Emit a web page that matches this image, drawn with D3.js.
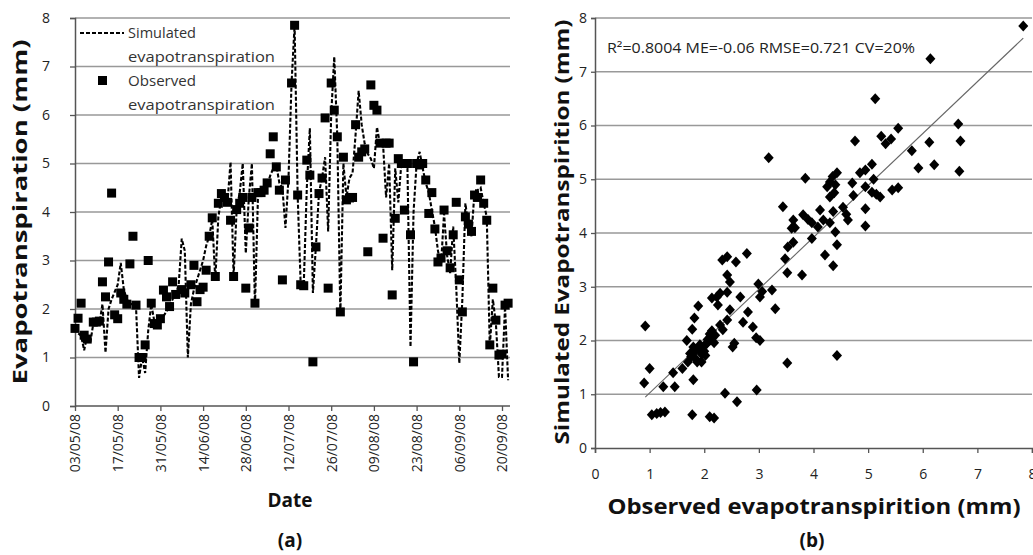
<!DOCTYPE html>
<html><head><meta charset="utf-8">
<script src="https://cdn.jsdelivr.net/npm/d3@7"></script>
<style>
body{margin:0;background:#fff;}
text{font-family:"Open Sans","Noto Sans",sans-serif;}
</style></head>
<body><svg id="c" width="1033" height="555"></svg>
<script>
// ---------- DATA ----------
const startDate = "2008-05-03";
const tickDates = ["03/05/08","17/05/08","31/05/08","14/06/08","28/06/08","12/07/08","26/07/08","09/08/08","23/08/08","06/09/08","20/09/08"];
const yTicks = [0,1,2,3,4,5,6,7,8];
const xTicksB = [0,1,2,3,4,5,6,7,8];
// simulated daily ET (mm), one value per day from startDate
const simulated = [
1.6,1.5,1.45,1.15,1.45,1.3,1.7,1.75,1.7,2.1,
1.1,2.0,2.2,2.35,2.5,2.95,2.4,2.2,2.1,2.1,
2.05,0.58,1.0,0.68,1.55,2.1,1.75,1.7,1.75,1.85,
1.95,2.05,2.2,2.3,2.5,3.45,3.2,1.0,2.1,2.4,
2.6,2.8,3.0,3.3,3.5,3.85,2.6,3.9,4.3,4.25,
4.2,5.03,2.67,4.05,4.4,5.0,3.15,4.3,5.0,2.05,
4.35,4.35,4.4,4.55,4.75,4.9,4.97,4.6,4.5,3.67,
4.7,6.66,7.85,4.35,2.5,2.5,4.5,5.73,2.33,3.3,
4.4,4.7,5.13,3.6,6.0,7.2,5.55,1.88,5.0,4.3,
4.7,4.8,5.6,6.5,5.8,5.4,5.2,5.1,4.9,5.75,
5.4,5.4,4.3,5.0,2.8,4.9,4.2,5.0,4.95,4.9,
1.22,4.0,5.0,5.24,4.9,4.6,4.4,4.04,3.7,3.2,
2.9,3.97,3.1,2.74,3.7,2.45,0.88,2.2,4.18,3.7,
3.5,4.45,4.45,4.5,4.18,3.9,1.22,2.2,1.7,0.6,
0.6,2.05,0.53];
// observed ET: day offset from startDate and value (mm)
const observedDay = [0,1,2,3,4,6,7,8,9,10,11,12,13,14,15,16,17,18,19,20,21,22,23,24,25,26,27,28,29,30,31,32,33,35,36,38,39,40,41,42,43,44,45,46,47,48,49,50,51,52,53,54,55,56,57,58,59,60,61,62,63,64,65,66,67,68,69,71,72,73,74,75,76,77,78,79,80,81,82,83,84,85,86,87,88,89,90,91,92,93,94,95,96,97,98,99,100,101,102,103,104,105,106,107,108,109,110,111,112,113,114,115,116,117,118,119,120,121,122,123,124,125,126,127,128,129,130,131,132,133,134,135,136,137,138,139,140,141,142];
const observedValue = [1.6,1.81,2.12,1.46,1.38,1.73,1.73,1.75,2.56,2.25,2.97,4.39,1.88,1.8,2.33,2.2,2.1,2.93,3.5,2.08,1.0,1.0,1.26,3.0,2.12,1.7,1.67,1.8,2.39,2.25,2.05,2.56,2.3,2.4,2.33,2.5,2.9,2.15,2.4,2.45,2.8,3.5,3.88,2.67,4.18,4.38,4.3,4.2,3.83,2.67,4.05,4.18,4.3,2.43,3.67,4.3,2.12,4.4,4.4,4.45,4.6,5.2,5.55,4.93,4.45,2.6,4.66,6.66,7.85,4.35,2.5,2.48,5.07,4.76,0.91,3.28,4.38,4.7,5.94,2.43,6.66,6.1,5.55,1.94,5.13,4.25,4.29,4.3,5.8,5.13,5.24,5.3,3.18,6.62,6.2,6.1,5.42,3.46,5.42,5.42,2.29,3.87,5.1,5.0,4.04,5.0,3.53,0.91,5.0,4.97,5.0,4.66,3.97,4.4,3.65,2.97,3.05,4.04,3.2,2.85,3.53,4.2,2.6,1.94,3.9,3.75,3.6,4.35,4.3,4.66,4.18,3.83,1.26,2.43,1.77,1.05,1.07,2.08,2.12];
// scatter (b): observed vs simulated
const scatterObs = [0.92,1.0,0.9,1.04,1.13,1.2,1.28,1.25,1.46,1.43,1.6,1.68,1.8,1.78,1.74,1.78,1.82,1.89,
1.7,1.76,1.83,1.9,1.95,2.0,2.05,2.1,2.15,2.2,1.85,1.95,2.0,1.87,2.06,2.1,2.14,1.92,2.02,2.18,1.8,
2.1,2.18,2.14,2.23,2.29,2.33,2.42,2.58,2.78,2.42,2.47,2.42,2.25,2.42,2.29,2.34,2.47,2.66,2.71,2.8,2.89,2.95,3.02,2.55,2.52,2.38,2.6,2.96,3.02,2.99,3.18,3.24,3.3,3.06,3.52,3.44,3.53,3.63,3.48,3.52,3.79,3.6,3.63,3.66,3.85,3.81,3.9,3.97,4.08,3.97,4.12,4.18,4.3,4.36,4.4,4.43,4.21,4.36,4.43,4.25,4.3,4.35,4.4,4.43,4.3,4.38,4.54,4.6,4.63,4.71,4.73,4.76,4.85,4.95,5.07,4.95,4.95,4.95,5.1,5.07,5.15,5.22,5.44,5.55,5.13,5.24,5.32,5.42,5.55,5.8,5.92,6.12,6.21,6.14,6.65,6.69,6.67,7.84];
const scatterSim = [2.27,1.48,1.21,0.62,0.64,0.66,0.67,1.14,1.14,1.4,1.48,2.0,1.27,0.62,1.76,2.21,2.42,2.64,
1.6,1.7,1.8,1.85,1.75,1.9,1.95,2.0,2.05,2.1,1.65,1.6,1.8,1.6,2.02,2.12,2.18,1.92,1.72,1.96,1.88,
0.58,0.56,2.79,2.81,2.88,3.5,3.56,3.46,3.62,3.22,3.09,2.9,2.66,2.38,2.29,2.2,2.57,2.81,2.34,2.53,2.25,2.05,2.0,1.95,1.88,1.02,0.86,1.08,2.81,3.05,5.4,2.94,2.59,2.91,1.58,4.49,3.74,3.83,3.52,3.26,3.22,4.09,4.24,4.1,5.02,4.34,4.25,4.19,4.11,3.9,4.43,4.24,4.19,4.4,4.02,3.78,3.59,3.39,1.72,4.86,4.95,5.05,4.9,5.12,4.67,4.75,4.48,4.35,4.24,4.93,4.7,5.71,5.12,5.17,5.28,4.86,4.45,4.13,5.0,4.76,4.72,4.67,4.8,4.84,6.5,5.8,5.66,5.75,5.95,5.53,5.21,5.69,5.27,7.24,6.03,5.71,5.15,7.85];
const fitLine = {x0:0.92, x1:7.84, slope:0.965, intercept:0.06};
const statsText = "R²=0.8004 ME=-0.06 RMSE=0.721 CV=20%";

// ---------- CHART ----------
const svg = d3.select("#c");
const gridCol = "#999", axisCol = "#555";
const parse = d3.timeParse("%Y-%m-%d"), fmt = d3.timeFormat("%d/%m/%y"), parseT = d3.timeParse("%d/%m/%y");
const d0 = parse(startDate);
const dayDate = d => d3.timeDay.offset(d0, d);

function fitText(sel, len) {
  sel.attr("textLength", len).attr("lengthAdjust", "spacingAndGlyphs");
  return sel;
}

// ----- panel (a)
const xA = d3.scaleTime().domain([d0, parseT("20/09/08")]).range([75, 502]);
const yA = d3.scaleLinear().domain([0, 8]).range([406, 18]);
const gA = svg.append("g");
gA.selectAll("line.grid").data(yTicks.slice(1)).join("line")
  .attr("x1", 75).attr("x2", 510).attr("y1", d => yA(d)).attr("y2", d => yA(d))
  .attr("stroke", gridCol).attr("stroke-width", 1.3);

gA.append("g").attr("transform", "translate(75,0)")
  .call(d3.axisLeft(yA).tickValues(yTicks).tickSize(5).tickPadding(20).tickFormat(d3.format("d")));
const xAxA = gA.append("g").attr("transform", "translate(0,406)")
  .call(d3.axisBottom(xA).tickValues(tickDates.map(parseT)).tickSize(5).tickFormat(fmt));
xAxA.select(".domain").attr("d", "M75,0H510");
xAxA.selectAll(".tick text").attr("transform", "rotate(-90)").attr("text-anchor", "end")
  .attr("x", -8).attr("y", 0).attr("dy", "0.35em");

// simulated dashed line
const line = d3.line().x((d, i) => xA(dayDate(i))).y(d => yA(d));
gA.append("path").datum(simulated).attr("d", line).attr("fill", "none")
  .attr("stroke", "#000").attr("stroke-width", 2.1).attr("stroke-dasharray", "4,2");
// observed squares
gA.selectAll("rect.obs").data(observedDay.map((d, i) => [d, observedValue[i]])).join("rect")
  .attr("x", d => xA(dayDate(d[0])) - 4.5).attr("y", d => yA(d[1]) - 4.5)
  .attr("width", 9).attr("height", 9).attr("fill", "#000");

// legend
const lg = gA.append("g");
lg.append("line").attr("x1", 80).attr("x2", 124).attr("y1", 33).attr("y2", 33)
  .attr("stroke", "#000").attr("stroke-width", 2.1).attr("stroke-dasharray", "4,2");
lg.append("rect").attr("x", 98).attr("y", 76).attr("width", 9).attr("height", 9).attr("fill", "#000");
[["Simulated", 38, 68], ["evapotranspiration", 62, 147], ["Observed", 86, 68], ["evapotranspiration", 110, 147]].forEach(t => {
  fitText(lg.append("text").attr("x", 128).attr("y", t[1]).text(t[0]).attr("font-size", 15).attr("fill", "#333"), t[2]);
});

// titles (a)
fitText(svg.append("text").attr("transform", "translate(27,212) rotate(-90)").attr("text-anchor", "middle")
  .attr("font-size", 20).attr("font-weight", "bold").attr("fill", "#111").text("Evapotranspiration (mm)"), 345);
svg.append("text").attr("x", 290).attr("y", 507).attr("text-anchor", "middle")
  .attr("font-size", 19).attr("font-weight", "bold").attr("fill", "#111").text("Date");
svg.append("text").attr("x", 290).attr("y", 547).attr("text-anchor", "middle")
  .attr("font-size", 19).attr("font-weight", "bold").attr("fill", "#111").text("(a)");

// ----- panel (b)
const xB = d3.scaleLinear().domain([0, 8]).range([595, 1032]);
const yB = d3.scaleLinear().domain([0, 8]).range([448, 18]);
const gB = svg.append("g");
gB.selectAll("line.grid").data(yTicks.slice(1)).join("line")
  .attr("x1", 595).attr("x2", 1032).attr("y1", d => yB(d)).attr("y2", d => yB(d))
  .attr("stroke", gridCol).attr("stroke-width", 1.3);
gB.append("g").attr("transform", "translate(595,0)")
  .call(d3.axisLeft(yB).tickValues(yTicks).tickSize(4).tickPadding(4).tickFormat(d3.format("d")));
gB.append("g").attr("transform", "translate(0,448)")
  .call(d3.axisBottom(xB).tickValues(xTicksB).tickSize(5).tickPadding(16).tickFormat(d3.format("d")));
// fit line
gB.append("line").attr("x1", xB(fitLine.x0)).attr("y1", yB(fitLine.intercept + fitLine.slope * fitLine.x0))
  .attr("x2", xB(fitLine.x1)).attr("y2", yB(fitLine.intercept + fitLine.slope * fitLine.x1))
  .attr("stroke", "#666").attr("stroke-width", 1.1);
// diamonds
gB.selectAll("path.pt").data(scatterObs.map((d, i) => [d, scatterSim[i]])).join("path")
  .attr("d", "M0,-5.5L5,0L0,5.5L-5,0Z")
  .attr("transform", d => `translate(${xB(d[0])},${yB(d[1])})`).attr("fill", "#000");
fitText(gB.append("text").attr("x", 607).attr("y", 53).attr("font-size", 14).attr("fill", "#222").text(statsText), 308);

fitText(svg.append("text").attr("transform", "translate(569,232) rotate(-90)").attr("text-anchor", "middle")
  .attr("font-size", 19).attr("font-weight", "bold").attr("fill", "#111").text("Simulated Evapotranspirition (mm)"), 425);
fitText(svg.append("text").attr("x", 814).attr("y", 514).attr("text-anchor", "middle")
  .attr("font-size", 21).attr("font-weight", "bold").attr("fill", "#111").text("Observed evapotranspirition (mm)"), 413);
svg.append("text").attr("x", 812).attr("y", 547).attr("text-anchor", "middle")
  .attr("font-size", 19).attr("font-weight", "bold").attr("fill", "#111").text("(b)");

// axis styling
svg.selectAll(".domain").attr("stroke", axisCol).attr("stroke-width", 1.5);
svg.selectAll(".tick line").attr("stroke", axisCol).attr("stroke-width", 1.3);
svg.selectAll(".tick text").attr("font-size", 14).attr("fill", "#222")
  .style("font-family", '"Open Sans","Noto Sans",sans-serif');
</script></body></html>
